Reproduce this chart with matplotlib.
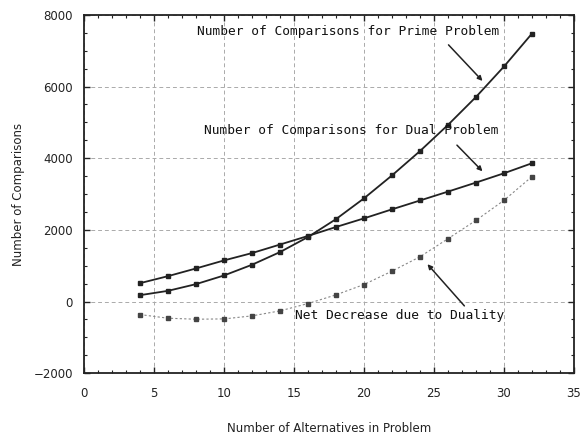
import numpy as np
import matplotlib
matplotlib.use('Agg')
import matplotlib.pyplot as plt
from matplotlib.ticker import MultipleLocator

# number of alternatives in the problem
n_alt = [4, 6, 8, 10, 12, 14, 16, 18, 20, 22, 24, 26, 28, 30, 32]

# comparisons needed
prime = [177, 298, 485, 727, 1026, 1380, 1800, 2300, 2880, 3520, 4200, 4930, 5710, 6560, 7480]
dual = [512, 708, 923, 1147, 1352, 1590, 1830, 2080, 2321, 2573, 2820, 3068, 3320, 3580, 3860]
net_decrease = [-364, -466, -494, -485, -401, -261, -56, 186, 475, 848, 1250, 1754, 2266, 2825, 3488]

MONO = 'DejaVu Sans Mono'

fig = plt.figure(figsize=(5.82, 4.38), dpi=100, facecolor='white')
ax = fig.add_axes([0.1443, 0.148, 0.842, 0.818])

ax.plot(n_alt, prime, color='#222222', lw=1.3, marker='s', ms=2.5, zorder=3)
ax.plot(n_alt, dual, color='#222222', lw=1.3, marker='s', ms=2.5, zorder=3)
ax.plot(n_alt, net_decrease, color='#888888', lw=0.8, ls=(0, (2, 2)),
        marker='s', ms=2.5, mfc='#444444', mec='#444444', zorder=3)

# labels with arrows
arrow = dict(arrowstyle='-|>', color='#222222', lw=1.1, mutation_scale=7)
ax.text(18.9, 7530, 'Number of Comparisons for Prime Problem', family=MONO,
        fontsize=9.3, ha='center', va='center', color='#111111')
ax.annotate('', xy=(28.6, 6100), xytext=(25.9, 7220), arrowprops=arrow)

ax.text(19.1, 4760, 'Number of Comparisons for Dual Problem', family=MONO,
        fontsize=9.3, ha='center', va='center', color='#111111')
ax.annotate('', xy=(28.6, 3580), xytext=(26.5, 4420), arrowprops=arrow)

ax.text(15.05, -390, 'Net Decrease due to Duality', family=MONO,
        fontsize=9.3, ha='left', va='center', color='#111111')
ax.annotate('', xy=(24.4, 1100), xytext=(27.3, -180), arrowprops=arrow)

ax.set_xlim(0, 35)
ax.set_ylim(-2000, 8000)
ax.xaxis.set_major_locator(MultipleLocator(5))
ax.xaxis.set_minor_locator(MultipleLocator(1))
ax.yaxis.set_major_locator(MultipleLocator(2000))
ax.yaxis.set_minor_locator(MultipleLocator(500))
ax.tick_params(which='both', direction='in', top=True, right=True,
               labelsize=8.5, colors='#222222')
ax.tick_params(which='major', length=4, width=1.0)
ax.tick_params(axis='x', which='major', pad=10)
ax.tick_params(axis='y', which='major', pad=8)
ax.tick_params(which='minor', length=2.5, width=0.8)
ax.grid(which='major', color='#aaaaaa', ls=(0, (4, 3)), lw=0.7)
for sp in ax.spines.values():
    sp.set_linewidth(1.3)
    sp.set_color('#222222')

ax.set_xlabel('Number of Alternatives in Problem', fontsize=8.5, labelpad=16, color='#222222')
ax.set_ylabel('Number of Comparisons', fontsize=8.5, labelpad=6, color='#222222')

plt.savefig('out.png', dpi=100, facecolor='white')
plt.close()
